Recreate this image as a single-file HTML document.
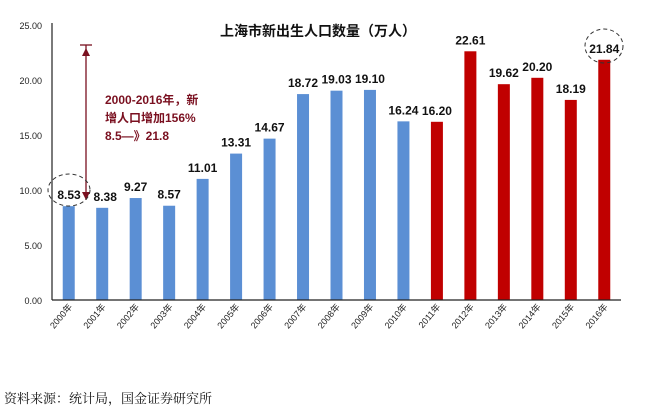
<!DOCTYPE html>
<html><head><meta charset="utf-8"><style>
body{margin:0;background:#fff;}
svg{display:block;font-family:"Liberation Sans","Noto Sans CJK SC",sans-serif;}
</style></head><body>
<svg id="chart" width="646" height="411">
<text x="318" y="36" text-anchor="middle" font-size="14" font-weight="bold" fill="#111">上海市新出生人口数量（万人）</text>
<g id="yaxis"></g><g id="bars"></g><g id="xlabels"></g>
<line x1="52" y1="23" x2="52" y2="300" stroke="#222" stroke-width="1.2"/>
<line x1="52" y1="300" x2="621" y2="300" stroke="#222" stroke-width="1.2"/>
<g>
<line x1="86" y1="45" x2="86" y2="200" stroke="#7a1020" stroke-width="1.3"/>
<line x1="80" y1="45" x2="92" y2="45" stroke="#7a1020" stroke-width="1.3"/>
<polygon points="86,48 82,56 90,56" fill="#7a1020"/>
<polygon points="86,200 82,192 90,192" fill="#7a1020"/>
<text font-size="12" font-weight="bold" fill="#7a1020"><tspan x="105" y="104">2000-2016年，新</tspan><tspan x="105" y="122">增人口增加156%</tspan><tspan x="105" y="140">8.5—》21.8</tspan></text>
</g>
<ellipse cx="69" cy="190" rx="21" ry="16" fill="none" stroke="#333" stroke-dasharray="4,3"/>
<ellipse cx="604" cy="46" rx="19" ry="17" fill="none" stroke="#333" stroke-dasharray="4,3"/>
<text x="4" y="403" font-size="13" fill="#111" font-family="'Noto Serif CJK SC',serif">资料来源：统计局，国金证券研究所</text>
</svg>
<script>
const years=["2000年","2001年","2002年","2003年","2004年","2005年","2006年","2007年","2008年","2009年","2010年","2011年","2012年","2013年","2014年","2015年","2016年"];
const values=[8.53,8.38,9.27,8.57,11.01,13.31,14.67,18.72,19.03,19.10,16.24,16.20,22.61,19.62,20.20,18.19,21.84];
const yTicks=[0,5,10,15,20,25];
const NS="http://www.w3.org/2000/svg";
const y=v=>300-v*11;
const band=(621-52)/years.length;
const x=i=>52+band*(i+0.5);
function mk(t,a,p){const e=document.createElementNS(NS,t);for(const k in a)e.setAttribute(k,a[k]);p.appendChild(e);return e;}
const ya=document.getElementById('yaxis'),bg=document.getElementById('bars'),xl=document.getElementById('xlabels');
yTicks.forEach(v=>{const t=mk('text',{x:42,y:y(v)+4,'text-anchor':'end','font-size':9,fill:'#222'},ya);t.textContent=v.toFixed(2);

});
values.forEach((v,i)=>{
 const r=mk('rect',{x:x(i)-6,y:y(v),width:12,height:300-y(v),fill:i>=11?'#c00000':'#5b8fd4'},bg);
 
 
 const lx=i===0?69:(i===1?x(i)+3:x(i));
 const t=mk('text',{x:lx,y:y(v)-7,'text-anchor':'middle','font-size':12,'font-weight':'bold',fill:'#111'},bg);t.textContent=v.toFixed(2);
 
 
 const yl=mk('text',{x:x(i)+4,y:307,'text-anchor':'end','font-size':9,fill:'#222',transform:`rotate(-50 ${x(i)+4} 307)`},xl);yl.textContent=years[i];
 
 
});
</script>
</body></html>
